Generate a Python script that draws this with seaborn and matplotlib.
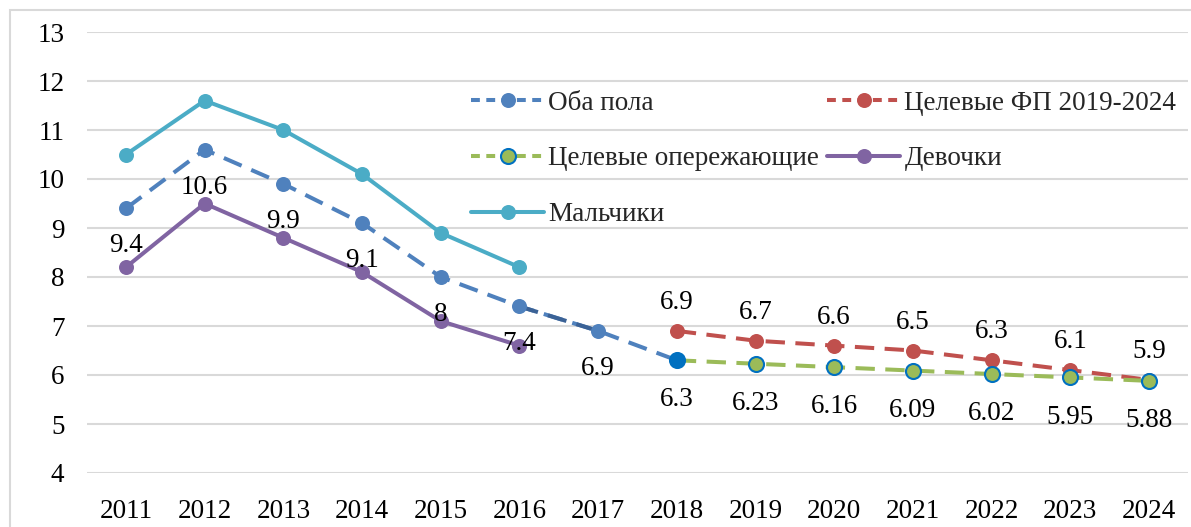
import matplotlib
matplotlib.use("Agg")
import matplotlib.pyplot as plt
import seaborn as sns
from matplotlib.lines import Line2D
from matplotlib.patches import Rectangle

years = [2011, 2012, 2013, 2014, 2015, 2016, 2017, 2018, 2019, 2020, 2021, 2022, 2023, 2024]
both_years = years[:8]
both_sexes = [9.4, 10.6, 9.9, 9.1, 8.0, 7.4, 6.9, 6.3]
girls_years = years[:6]
girls = [8.2, 9.5, 8.8, 8.1, 7.1, 6.6]
boys = [10.5, 11.6, 11.0, 10.1, 8.9, 8.2]
target_years = years[7:]
target_fp = [6.9, 6.7, 6.6, 6.5, 6.3, 6.1, 5.9]
target_adv = [6.3, 6.23, 6.16, 6.09, 6.02, 5.95, 5.88]

c_both = '#4F81BD'
c_fp = '#C0504D'
c_adv = '#9BBB59'
c_girls = '#8064A2'
c_boys = '#4BACC6'
c_edge = '#0070C0'
c_dark = '#3B6296'

sns.set_theme(style="white")
plt.rcParams['font.family'] = ['Liberation Serif', 'DejaVu Serif']

W, H = 1191, 527
fig = plt.figure(figsize=(W / 100, H / 100), dpi=100)
ax = fig.add_axes([86.6 / W, 54 / H, (1188.4 - 86.6) / W, 441 / H])

lw = 2.9
ms = 10.8
dash = (4.8, 2.6)

# gridlines
ax.set_ylim(4, 13)
ax.set_xlim(2010.5, 2024.5)
ax.set_yticks(range(4, 14))
ax.set_xticks(years)
ax.yaxis.grid(True, color='#D9D9D9', linewidth=1.5)
ax.set_axisbelow(True)
for s in ax.spines.values():
    s.set_visible(False)

# boys, girls (solid)
sns.lineplot(x=girls_years, y=boys, ax=ax, color=c_boys, linewidth=lw,
             marker='o', markersize=ms, markeredgewidth=0, zorder=3)
sns.lineplot(x=girls_years, y=girls, ax=ax, color=c_girls, linewidth=lw,
             marker='o', markersize=ms, markeredgewidth=0, zorder=3)

# both sexes (dashed) with a darker 2016-2017 segment
sns.lineplot(x=both_years, y=both_sexes, ax=ax, color=c_both, linewidth=lw, zorder=3)
ax.lines[-1].set_dashes(dash)
sns.lineplot(x=both_years[5:7], y=both_sexes[5:7], ax=ax, color=c_dark, linewidth=lw, zorder=3.1)
ax.lines[-1].set_dashes(dash)
sns.scatterplot(x=both_years[:7], y=both_sexes[:7], ax=ax, color=c_both, s=ms ** 2,
                linewidth=0, zorder=4)

# targets
sns.lineplot(x=target_years, y=target_fp, ax=ax, color=c_fp, linewidth=lw,
             marker='o', markersize=ms, markeredgewidth=0, zorder=3)
ax.lines[-1].set_dashes(dash)
sns.lineplot(x=target_years, y=target_adv, ax=ax, color=c_adv, linewidth=lw,
             marker='o', markersize=ms, markerfacecolor=c_adv,
             markeredgecolor=c_edge, markeredgewidth=1.5, zorder=3.5)
ax.lines[-1].set_dashes(dash)
sns.scatterplot(x=both_years[7:], y=both_sexes[7:], ax=ax, color=c_edge, s=ms ** 2,
                linewidth=0, zorder=4)

fs = 19.5
# data labels
for x, y in zip(both_years[:7], both_sexes[:7]):
    ax.annotate(f'{y:g}', (x, y), xytext=(0, -27), textcoords='offset points',
                ha='center', va='center', fontsize=fs, color='black', zorder=5)
for x, y in zip(target_years, target_adv):
    ax.annotate(f'{y:g}', (x, y), xytext=(0, -28.5), textcoords='offset points',
                ha='center', va='center', fontsize=fs, color='black', zorder=5)
for x, y in zip(target_years, target_fp):
    ax.annotate(f'{y:g}', (x, y), xytext=(0, 20.5), textcoords='offset points',
                ha='center', va='center', fontsize=fs, color='black', zorder=5)

ax.tick_params(axis='both', length=0, labelsize=fs, colors='black')
ax.tick_params(axis='y', pad=16)
ax.tick_params(axis='x', pad=19)
ax.set_xlabel('')
ax.set_ylabel('')


def handle(color, dashed, face=None, edge=None):
    h = Line2D([], [], color=color, linewidth=lw, marker='o', markersize=ms,
               markerfacecolor=face or color, markeredgecolor=edge or color,
               markeredgewidth=1.5 if edge else 0)
    if dashed:
        h.set_dashes((2.2, 1.6))
    return h


handles = [handle(c_both, True), handle(c_adv, True, c_adv, c_edge), handle(c_boys, False),
           handle(c_fp, True), handle(c_girls, False)]
labels = ['Оба пола', 'Целевые опережающие', 'Мальчики',
          'Целевые ФП 2019-2024', 'Девочки']
fig.legend(handles, labels, loc='upper left', bbox_to_anchor=(471 / W, 1 - 90.5 / H),
           ncol=2, frameon=False, fontsize=fs, handlelength=2.7, handletextpad=0.15,
           columnspacing=0.3, labelspacing=1.14, borderpad=0, borderaxespad=0)

fig.patches.append(Rectangle((10 / W, -0.05), 1.2, 1.05 - 10 / H, transform=fig.transFigure,
                             fill=False, edgecolor='#D9D9D9', linewidth=1.5, zorder=0))

fig.savefig('out.png', dpi=100)
